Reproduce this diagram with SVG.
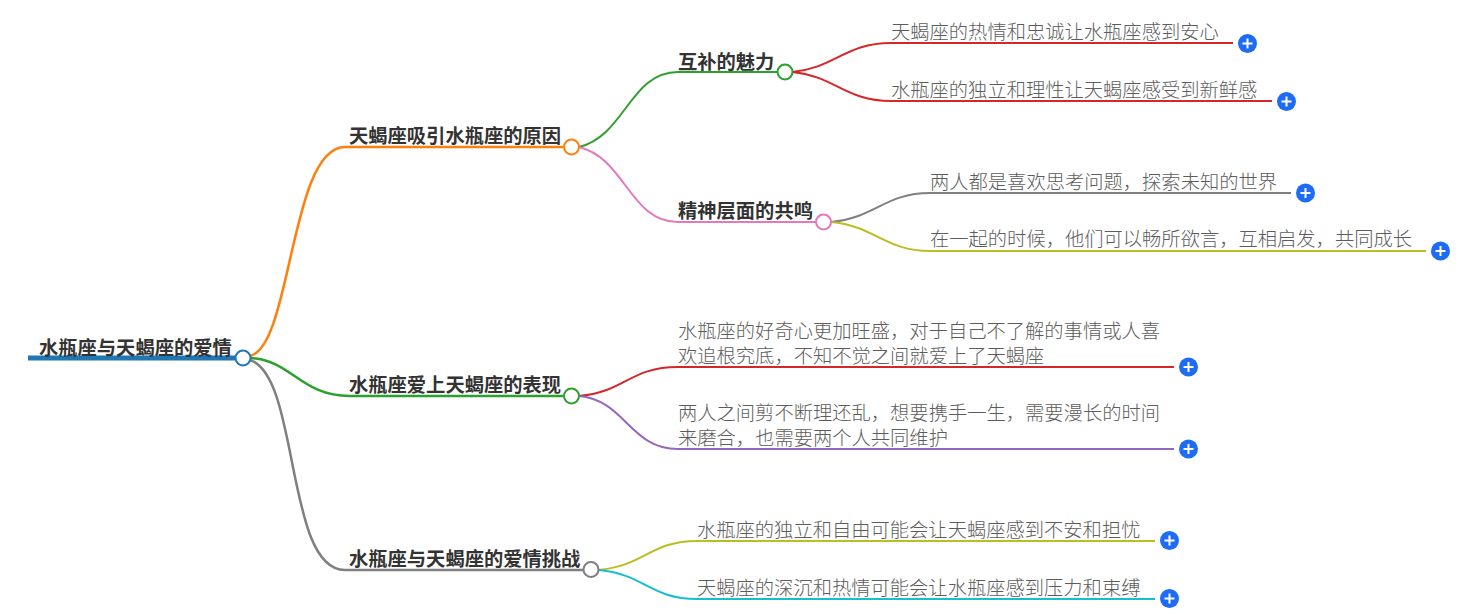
<svg xmlns="http://www.w3.org/2000/svg" width="1479" height="614" viewBox="0 0 1479 614">
<style>
text{font-family:"Noto Sans CJK SC","Noto Sans",sans-serif}
.t1{font-size:19.3px;font-weight:700;fill:#333}
.t2{font-size:19.3px;font-weight:300;fill:#5c5c5c}
.c{fill:none;stroke-width:2}
.d{fill:#fff;stroke-width:2}
.b{fill:#1e6cf5}
.p{stroke:#fff;stroke-width:2;fill:none}
</style>
<defs><g id="plus"><circle class="b" r="9.5"/><path class="p" d="M-5 0H5M0-5V5"/></g></defs>
<rect width="1479" height="614" fill="#fff"/>
<g id="connectors">
<path class="c" stroke="#1f77b4" style="stroke-width:5" d="M28 358H235"/>
<path class="c" stroke="#ff7f0e" style="stroke-width:2.5" d="M250 356C292 346 290 147 345 147H563"/>
<path class="c" stroke="#2ca02c" style="stroke-width:2.5" d="M250 358C292 360 300 396 350 396H563"/>
<path class="c" stroke="#7f7f7f" style="stroke-width:2.5" d="M250 360C300 376 285 570 345 570H583"/>
<path class="c" stroke="#2ca02c" d="M579 147C625 136 630 72 678 72H777"/>
<path class="c" stroke="#e377c2" d="M579 147C625 158 630 222 678 222H816"/>
<path class="c" stroke="#d62728" d="M792 72C835 68 845 43 891 43H1233"/>
<path class="c" stroke="#d62728" d="M792 72C835 76 845 101 891 101H1272"/>
<path class="c" stroke="#7f7f7f" d="M831 222C875 218 885 193 930 193H1291"/>
<path class="c" stroke="#bcbd22" d="M831 222C875 226 885 251 930 251H1426"/>
<path class="c" stroke="#d62728" d="M579 396C625 392 630 367 678 367H1174"/>
<path class="c" stroke="#9467bd" d="M579 396C625 400 630 449 678 449H1174"/>
<path class="c" stroke="#bcbd22" d="M598 570C645 566 650 541 697 541H1155"/>
<path class="c" stroke="#17becf" d="M598 570C645 574 650 599 697 599H1155"/>
</g>
<g id="root"><text class="t1" x="39" y="354.500">水瓶座与天蝎座的爱情</text><circle class="d" stroke="#1f77b4" cx="243" cy="358" r="7.5"/></g>
<g id="n1"><text class="t1" x="349" y="142.500">天蝎座吸引水瓶座的原因</text><circle class="d" stroke="#ff7f0e" cx="571.500" cy="147" r="7.5"/></g>
<g id="n2"><text class="t1" x="349" y="391.500">水瓶座爱上天蝎座的表现</text><circle class="d" stroke="#2ca02c" cx="571.500" cy="396" r="7.5"/></g>
<g id="n3"><text class="t1" x="349" y="565.500">水瓶座与天蝎座的爱情挑战</text><circle class="d" stroke="#7f7f7f" cx="591" cy="569.500" r="7.5"/></g>
<g id="n11"><text class="t1" x="678" y="68.500">互补的魅力</text><circle class="d" stroke="#2ca02c" cx="785" cy="72" r="7.5"/></g>
<g id="n12"><text class="t1" x="678" y="217.500">精神层面的共鸣</text><circle class="d" stroke="#e377c2" cx="823.500" cy="222" r="7.5"/></g>
<g id="l1"><text class="t2" x="891" y="39">天蝎座的热情和忠诚让水瓶座感到安心</text><use href="#plus" x="1247.500" y="43.500"/></g>
<g id="l2"><text class="t2" x="891" y="97">水瓶座的独立和理性让天蝎座感受到新鲜感</text><use href="#plus" x="1286.500" y="101.500"/></g>
<g id="l3"><text class="t2" x="930" y="188.500">两人都是喜欢思考问题，探索未知的世界</text><use href="#plus" x="1305.500" y="193"/></g>
<g id="l4"><text class="t2" x="930" y="246">在一起的时候，他们可以畅所欲言，互相启发，共同成长</text><use href="#plus" x="1440.500" y="251"/></g>
<g id="l5"><text class="t2" x="678" y="338">水瓶座的好奇心更加旺盛，对于自己不了解的事情或人喜</text><text class="t2" x="678" y="363">欢追根究底，不知不觉之间就爱上了天蝎座</text><use href="#plus" x="1188.500" y="367"/></g>
<g id="l6"><text class="t2" x="678" y="420">两人之间剪不断理还乱，想要携手一生，需要漫长的时间</text><text class="t2" x="678" y="445">来磨合，也需要两个人共同维护</text><use href="#plus" x="1188.500" y="449"/></g>
<g id="l7"><text class="t2" x="697" y="537">水瓶座的独立和自由可能会让天蝎座感到不安和担忧</text><use href="#plus" x="1169.500" y="540.500"/></g>
<g id="l8"><text class="t2" x="697" y="595">天蝎座的深沉和热情可能会让水瓶座感到压力和束缚</text><use href="#plus" x="1169.500" y="598.500"/></g>
</svg>
